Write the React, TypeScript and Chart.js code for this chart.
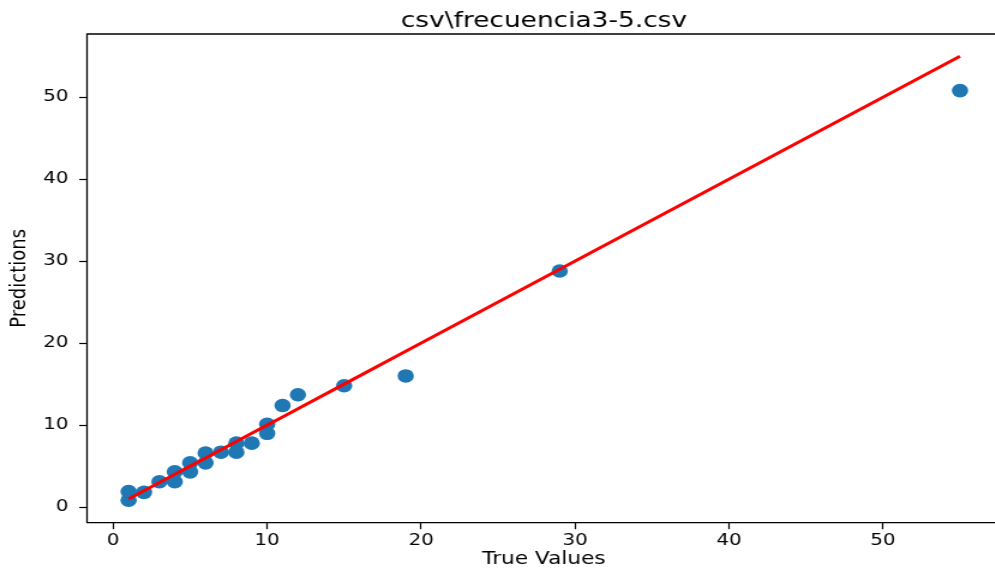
import React, { useEffect, useRef } from "react";
import { Chart, registerables } from "chart.js";

Chart.register(...registerables);

const chartTitle = "csv\\frecuencia3-5.csv";
const xAxisLabel = "True Values";
const yAxisLabel = "Predictions";

const trueValues = [1, 1, 2, 3, 4, 4, 5, 5, 6, 6, 7, 8, 8, 9, 10, 10, 11, 12, 15, 19, 29, 55];
const predictions = [1.9, 0.85, 1.8, 3.1, 4.3, 3.1, 5.4, 4.3, 6.6, 5.4, 6.7, 7.8, 6.7, 7.8, 10.1, 9.0, 12.4, 13.7, 14.8, 16.0, 28.8, 50.8];

const xTickValues = [0, 10, 20, 30, 40, 50];
const yTickValues = [0, 10, 20, 30, 40, 50];

const X_MIN = -1.7;
const X_MAX = 57.2;
const Y_MIN = -1.9;
const Y_MAX = 57.7;

const STRETCH = 1.2;
const NATIVE_W = 835;
const NATIVE_H = 579;

const framePlugin = {
  id: "frameAndText",
  afterDraw(chart: any) {
    const { ctx, chartArea } = chart;
    const { left, right, top, bottom } = chartArea;
    const cx = (left + 834) / 2;
    const cy = (top + bottom) / 2;
    ctx.save();
    ctx.strokeStyle = "#000";
    ctx.lineWidth = 1.3;
    ctx.beginPath();
    ctx.moveTo(right + 10, top);
    ctx.lineTo(left, top);
    ctx.lineTo(left, bottom);
    ctx.lineTo(right + 10, bottom);
    ctx.stroke();

    ctx.fillStyle = "#000";
    ctx.textAlign = "center";
    ctx.textBaseline = "alphabetic";
    ctx.font = '22px "DejaVu Sans"';
    ctx.fillText(chartTitle, cx, 27);

    ctx.font = '18px "DejaVu Sans"';
    ctx.fillText(xAxisLabel, cx, 563.5);

    ctx.translate(20.8, cy);
    ctx.rotate(-Math.PI / 2);
    ctx.fillText(yAxisLabel, 0, 0);
    ctx.restore();
  },
};

export default function App() {
  const canvasRef = useRef<HTMLCanvasElement | null>(null);

  useEffect(() => {
    if (!canvasRef.current) return;
    const scatterPoints = trueValues.map((v, i) => ({ x: v, y: predictions[i] }));
    const sortedTrue = [...trueValues].sort((a, b) => a - b);
    const linePoints = sortedTrue.map((v) => ({ x: v, y: v }));

    const chart = new Chart(canvasRef.current, {
      type: "scatter",
      data: {
        datasets: [
          {
            type: "line",
            data: linePoints,
            borderColor: "#ff0000",
            borderWidth: 3,
            pointRadius: 0,
            fill: false,
            tension: 0,
            order: 0,
          } as any,
          {
            type: "scatter",
            data: scatterPoints,
            backgroundColor: "#1f77b4",
            borderWidth: 0,
            pointRadius: 6.8,
            order: 1,
          },
        ],
      },
      options: {
        animation: false,
        responsive: false,
        devicePixelRatio: 1,
        layout: { padding: { top: 34, left: 0, right: 1, bottom: 0 } },
        plugins: {
          legend: { display: false },
          tooltip: { enabled: false },
          title: { display: false },
        },
        scales: {
          x: {
            type: "linear",
            min: X_MIN,
            max: X_MAX,
            afterBuildTicks: (scale: any) => {
              scale.ticks = xTickValues.map((v) => ({ value: v }));
            },
            afterFit: (scale: any) => {
              scale.height = 56.3;
            },
            ticks: {
              color: "#000",
              font: { family: "DejaVu Sans", size: 16.5 },
              padding: 2,
              maxRotation: 0,
              autoSkip: false,
            },
            grid: {
              drawOnChartArea: false,
              drawTicks: true,
              tickLength: 6.5,
              tickColor: "#000",
              tickWidth: 1.2,
            },
            border: { display: false },
          },
          y: {
            type: "linear",
            min: Y_MIN,
            max: Y_MAX,
            afterBuildTicks: (scale: any) => {
              scale.ticks = yTickValues.map((v) => ({ value: v }));
            },
            afterFit: (scale: any) => {
              scale.width = 72.5;
            },
            ticks: {
              color: "#000",
              font: { family: "DejaVu Sans", size: 16.5 },
              padding: 9,
              autoSkip: false,
            },
            grid: {
              drawOnChartArea: false,
              drawTicks: true,
              tickLength: 6.5,
              tickColor: "#000",
              tickWidth: 1.2,
            },
            border: { display: false },
          },
        },
      },
      plugins: [framePlugin],
    });
    return () => chart.destroy();
  }, []);

  return (
    <div
      style={{
        position: "fixed",
        left: 0,
        top: 0,
        width: 995,
        height: 579,
        overflow: "hidden",
        background: "#fff",
      }}
    >
      <div
        style={{
          width: NATIVE_W,
          height: NATIVE_H,
          transform: `scaleX(${STRETCH})`,
          transformOrigin: "0 0",
        }}
      >
        <canvas
          ref={canvasRef}
          width={NATIVE_W}
          height={NATIVE_H}
          style={{ display: "block", width: NATIVE_W, height: NATIVE_H }}
        />
      </div>
    </div>
  );
}
